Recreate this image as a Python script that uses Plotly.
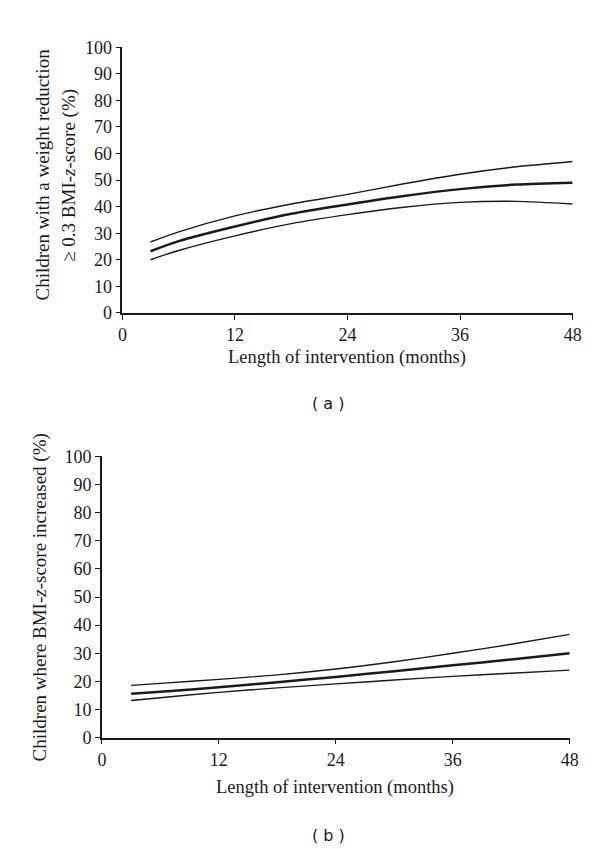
import plotly.graph_objects as go

W, H = 600, 849

# Panel (a): children with weight reduction >= 0.3 BMI-z-score (%)
months = [3, 6, 12, 18, 24, 30, 36, 42, 48]
a_mid = [23.2, 27.0, 32.5, 37.3, 40.8, 44.0, 46.6, 48.3, 49.0]
a_upper = [26.7, 30.5, 36.5, 41.0, 44.6, 48.6, 52.2, 55.0, 57.0]
a_lower = [20.0, 23.5, 29.0, 33.6, 37.0, 39.8, 41.6, 42.0, 41.0]

# Panel (b): children where BMI-z-score increased (%)
b_mid = [15.6, 16.3, 17.9, 19.7, 21.6, 23.6, 25.7, 27.8, 30.0]
b_upper = [18.6, 19.3, 20.7, 22.3, 24.4, 27.0, 30.0, 33.2, 36.7]
b_lower = [13.2, 14.2, 16.1, 17.7, 19.1, 20.5, 21.8, 22.9, 24.0]

x_ticks = [0, 12, 24, 36, 48]
y_ticks = [0, 10, 20, 30, 40, 50, 60, 70, 80, 90, 100]

SERIF = "Liberation Serif"
INK = "#1a1a1a"

fig = go.Figure()

def add_lines(xa, ya, mid, up, lo):
    for vals, w in ((up, 1.4), (mid, 2.5), (lo, 1.4)):
        fig.add_trace(go.Scatter(x=months, y=vals, mode="lines",
                                 line=dict(color=INK, width=w, shape="spline", smoothing=0.8),
                                 xaxis=xa, yaxis=ya, showlegend=False, hoverinfo="skip"))

add_lines("x", "y", a_mid, a_upper, a_lower)
add_lines("x2", "y2", b_mid, b_upper, b_lower)

def px(x):
    return x / W

def py(y):
    return 1 - y / H

axis_common = dict(showgrid=False, zeroline=False, showline=True, linecolor=INK, linewidth=1.5,
                   ticks="outside", ticklen=5, tickwidth=1.3, tickcolor=INK,
                   tickfont=dict(family=SERIF, size=18, color=INK))

fig.update_layout(
    width=W, height=H, margin=dict(l=0, r=0, t=0, b=0),
    plot_bgcolor="white", paper_bgcolor="white", showlegend=False,
    xaxis=dict(domain=[px(112), px(573)], range=[0, 48], tickvals=x_ticks, anchor="y", **axis_common),
    yaxis=dict(domain=[py(302), py(30)], range=[0, 100], tickvals=y_ticks, anchor="x", **axis_common),
    xaxis2=dict(domain=[px(91), px(570)], range=[0, 48], tickvals=x_ticks, anchor="y2", **axis_common),
    yaxis2=dict(domain=[py(737), py(449)], range=[0, 100], tickvals=y_ticks, anchor="x2", **axis_common),
)

def text(x, y, s, angle=0, family=SERIF, size=18.5):
    fig.add_annotation(x=px(x), y=py(y), xref="paper", yref="paper", text=s, showarrow=False,
                       textangle=angle, xanchor="center", yanchor="middle",
                       font=dict(family=family, size=size, color=INK))

# Panel (a) texts
text(30, 160, "Children with a weight reduction", angle=-90, size=19)
text(58, 161, "≥ 0.3 BMI-<i>z</i>-score (%)", angle=-90, size=19)
text(342, 348, "Length of intervention (months)")
text(323, 395, "( a )", family="DejaVu Sans", size=16)

# Panel (b) texts
text(28, 593, "Children where BMI-<i>z</i>-score increased (%)", angle=-90, size=19)
text(330, 788, "Length of intervention (months)")
text(323, 837, "( b )", family="DejaVu Sans", size=16)

fig.write_html("out.html")
